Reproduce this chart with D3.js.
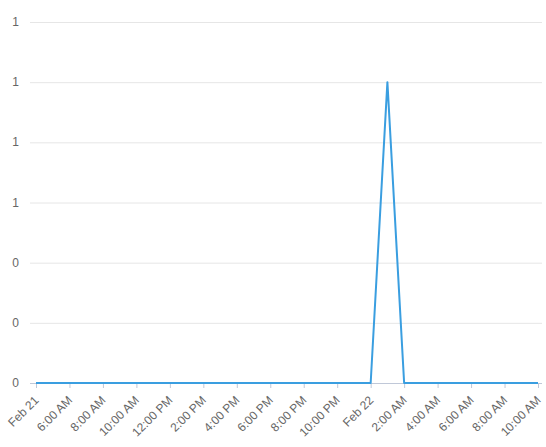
<!DOCTYPE html>
<html>
<head>
<meta charset="utf-8">
<script src="https://cdn.jsdelivr.net/npm/d3@7"></script>
<style>
  body { margin: 0; background: #fff; }
  svg text { font-family: "Liberation Sans", "DejaVu Sans", sans-serif; }
</style>
</head>
<body>
<div id="chart"></div>
<script>
// hourly samples, Feb 21 04:00 -> Feb 22 10:00
const startTime = new Date(2020, 1, 21, 4);
const endTime = new Date(2020, 1, 22, 10);
const hours = d3.timeHour.range(startTime, d3.timeHour.offset(endTime, 1));
const values = [
  0, 0, 0, 0, 0, 0, 0, 0, 0, 0,   // 04:00 - 13:00
  0, 0, 0, 0, 0, 0, 0, 0, 0, 0,   // 14:00 - 23:00
  0, 1, 0, 0, 0, 0, 0, 0, 0, 0,   // Feb 22 00:00 - 09:00
  0                               // 10:00
];
const yTicks = [0, 0.2, 0.4, 0.6, 0.8, 1.0, 1.2];
const xTickLabels = ['Feb 21', '6:00 AM', '8:00 AM', '10:00 AM', '12:00 PM', '2:00 PM', '4:00 PM',
  '6:00 PM', '8:00 PM', '10:00 PM', 'Feb 22', '2:00 AM', '4:00 AM', '6:00 AM', '8:00 AM', '10:00 AM'];

const data = hours.map((t, i) => ({ t: t, v: values[i] }));

const width = 546, height = 447;
const plot = { left: 30, right: 542, top: 22, bottom: 383 };

const svg = d3.select('#chart').append('svg')
  .attr('width', width)
  .attr('height', height);

const x = d3.scaleTime().domain([startTime, endTime]).range([36, 538]);
const y = d3.scaleLinear().domain([0, 1.2]).range([plot.bottom, plot.top]);

// grid lines
svg.append('g')
  .selectAll('line')
  .data(yTicks.slice(1))
  .enter().append('line')
  .attr('x1', plot.left)
  .attr('x2', plot.right)
  .attr('y1', d => y(d) + 0.5)
  .attr('y2', d => y(d) + 0.5)
  .attr('stroke', '#e6e6e6')
  .attr('stroke-width', 1);

// y labels
svg.append('g')
  .selectAll('text')
  .data(yTicks)
  .enter().append('text')
  .attr('x', 19)
  .attr('y', d => y(d) + 4)
  .attr('text-anchor', 'end')
  .attr('font-size', 12)
  .attr('fill', '#666')
  .text(d => d3.format('.0f')(d));

// x axis
const xTicks = d3.timeHour.every(2).range(startTime, d3.timeHour.offset(endTime, 1));
const xAxis = svg.append('g')
  .attr('transform', `translate(0, ${plot.bottom})`)
  .call(d3.axisBottom(x)
    .tickValues(xTicks)
    .tickSize(5)
    .tickFormat((d, i) => xTickLabels[i]));

xAxis.attr('font-family', null);
xAxis.select('.domain').remove();
xAxis.append('line')
  .attr('x1', plot.left)
  .attr('x2', plot.right)
  .attr('y1', 0.5)
  .attr('y2', 0.5)
  .attr('stroke', '#c0c8d8');
xAxis.selectAll('.tick line').attr('stroke', '#c0c8d8');
xAxis.selectAll('.tick text')
  .attr('font-size', 12)
  .attr('fill', '#666')
  .attr('text-anchor', 'end')
  .attr('y', 0)
  .attr('dy', null)
  .attr('transform', 'translate(3, 18) rotate(-45)');

// series line
svg.append('path')
  .datum(data)
  .attr('fill', 'none')
  .attr('stroke', '#3a9ee0')
  .attr('stroke-width', 2)
  .attr('stroke-linejoin', 'round')
  .attr('d', d3.line().x(d => x(d.t)).y(d => y(d.v)));
</script>
</body>
</html>
